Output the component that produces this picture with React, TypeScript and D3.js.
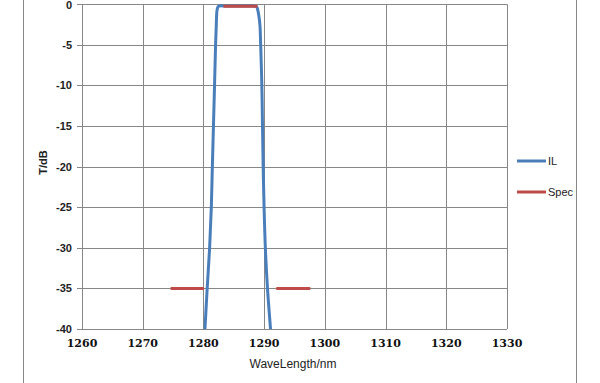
import React from "react";
import * as d3 from "d3";

const W = 600;
const H = 383;

// IL curve (wavelength nm, transmission dB)
const ilWavelength = [
  1280.05, 1280.25, 1280.62, 1281.02, 1281.3, 1281.47, 1281.65, 1281.83, 1282.0, 1282.12, 1282.2, 1282.3, 1282.45, 1282.7,
  1283.5, 1284.5, 1285.5, 1286.5, 1287.5, 1288.3, 1288.75, 1288.95, 1289.1, 1289.3, 1289.43, 1289.62, 1289.73, 1289.84,
  1289.99, 1290.2, 1290.55, 1291.05, 1291.35,
];
const ilValues = [
  -43, -40, -35, -30, -25, -20, -15, -10, -5, -2.5, -1, -0.5, -0.25, -0.2,
  -0.2, -0.2, -0.2, -0.2, -0.2, -0.22, -0.3, -0.7, -1.3, -2.5, -5, -10, -15, -20,
  -25, -30, -35, -40, -43,
];

// Spec segments
const specStart = [1283.3, 1274.6, 1292.0];
const specEnd = [1288.9, 1280.1, 1297.6];
const specLevel = [-0.25, -35, -35];

const xTicks = [1260, 1270, 1280, 1290, 1300, 1310, 1320, 1330];
const yTicks = [0, -5, -10, -15, -20, -25, -30, -35, -40];

const seriesNames = ["IL", "Spec"];
const seriesColors = ["#4a7ebb", "#be4b48"];

export default function App() {
  const left = 82;
  const right = 507;
  const top = 4.3;
  const bottom = 329;

  const x = d3.scaleLinear().domain([1260, 1330]).range([left, right]);
  const y = d3.scaleLinear().domain([-40, 0]).range([bottom, top]);

  const ilPts: [number, number][] = ilWavelength.map((w, i) => [w, ilValues[i]]);
  const line = d3
    .line<[number, number]>()
    .x((d) => x(d[0]))
    .y((d) => y(d[1]))
    .curve(d3.curveCatmullRom.alpha(0.5));

  const grid = "#878787";
  const font = "'Liberation Sans', Arial, sans-serif";

  return (
    <svg
      width={W}
      height={H}
      style={{ position: "fixed", left: 0, top: 0, background: "#fff" }}
    >
      <defs>
        <clipPath id="plotClip">
          <rect x={left} y={top - 3} width={right - left} height={bottom - top + 3} />
        </clipPath>
      </defs>
      <rect x={0} y={0} width={W} height={H} fill="#fff" />
      {/* outer chart border */}
      <line x1={23.5} x2={23.5} y1={0} y2={H} stroke={grid} strokeWidth={1} />
      <line x1={576.5} x2={576.5} y1={0} y2={H} stroke={grid} strokeWidth={1} />

      {/* horizontal grid + y ticks */}
      {yTicks.map((t) => (
        <g key={"y" + t}>
          <line x1={left - 5} x2={right} y1={Math.round(y(t)) + 0.5} y2={Math.round(y(t)) + 0.5} stroke={grid} strokeWidth={1} />
          <text
            x={72}
            y={y(t) + (t === 0 ? 0.8 : 0)}
            dy="0.35em"
            textAnchor="end"
            fontFamily={font}
            fontWeight="bold"
            fontSize={11}
            fill="#222"
          >
            {t}
          </text>
        </g>
      ))}
      {/* vertical grid + x labels */}
      {xTicks.map((t) => (
        <g key={"x" + t}>
          <line x1={Math.round(x(t)) + 0.5} x2={Math.round(x(t)) + 0.5} y1={top} y2={bottom} stroke={grid} strokeWidth={1} />
          <text
            x={x(t)}
            y={347}
            textAnchor="middle"
            fontFamily="'DejaVu Serif', serif"
            fontWeight="bold"
            fontSize={11}
            fill="#111"
          >
            {t}
          </text>
        </g>
      ))}

      {/* axis titles */}
      <text
        x={293}
        y={368}
        textAnchor="middle"
        fontFamily={font}
        fontSize={12}
        fill="#222"
      >
        WaveLength/nm
      </text>
      <text
        transform={`translate(47,${y(-19.5)}) rotate(-90)`}
        textAnchor="middle"
        fontFamily={font}
        fontWeight="bold"
        fontSize={11}
        fill="#222"
      >
        T/dB
      </text>

      <g clipPath="url(#plotClip)">
        <path d={line(ilPts) || ""} fill="none" stroke={seriesColors[0]} strokeWidth={3} strokeLinejoin="round" />
        {specStart.map((s, i) => (
          <line
            key={"s" + i}
            x1={x(s)}
            x2={x(specEnd[i])}
            y1={y(specLevel[i])}
            y2={y(specLevel[i])}
            stroke={seriesColors[1]}
            strokeWidth={3}
          />
        ))}
      </g>

      {/* legend */}
      {seriesNames.map((n, i) => (
        <g key={n} transform={`translate(517,${161 + i * 31})`}>
          <line x1={0} x2={29} y1={0} y2={0} stroke={seriesColors[i]} strokeWidth={3} />
          <text x={31} y={0} dy="0.35em" fontFamily={font} fontSize={11} fill="#222">
            {n}
          </text>
        </g>
      ))}
    </svg>
  );
}
